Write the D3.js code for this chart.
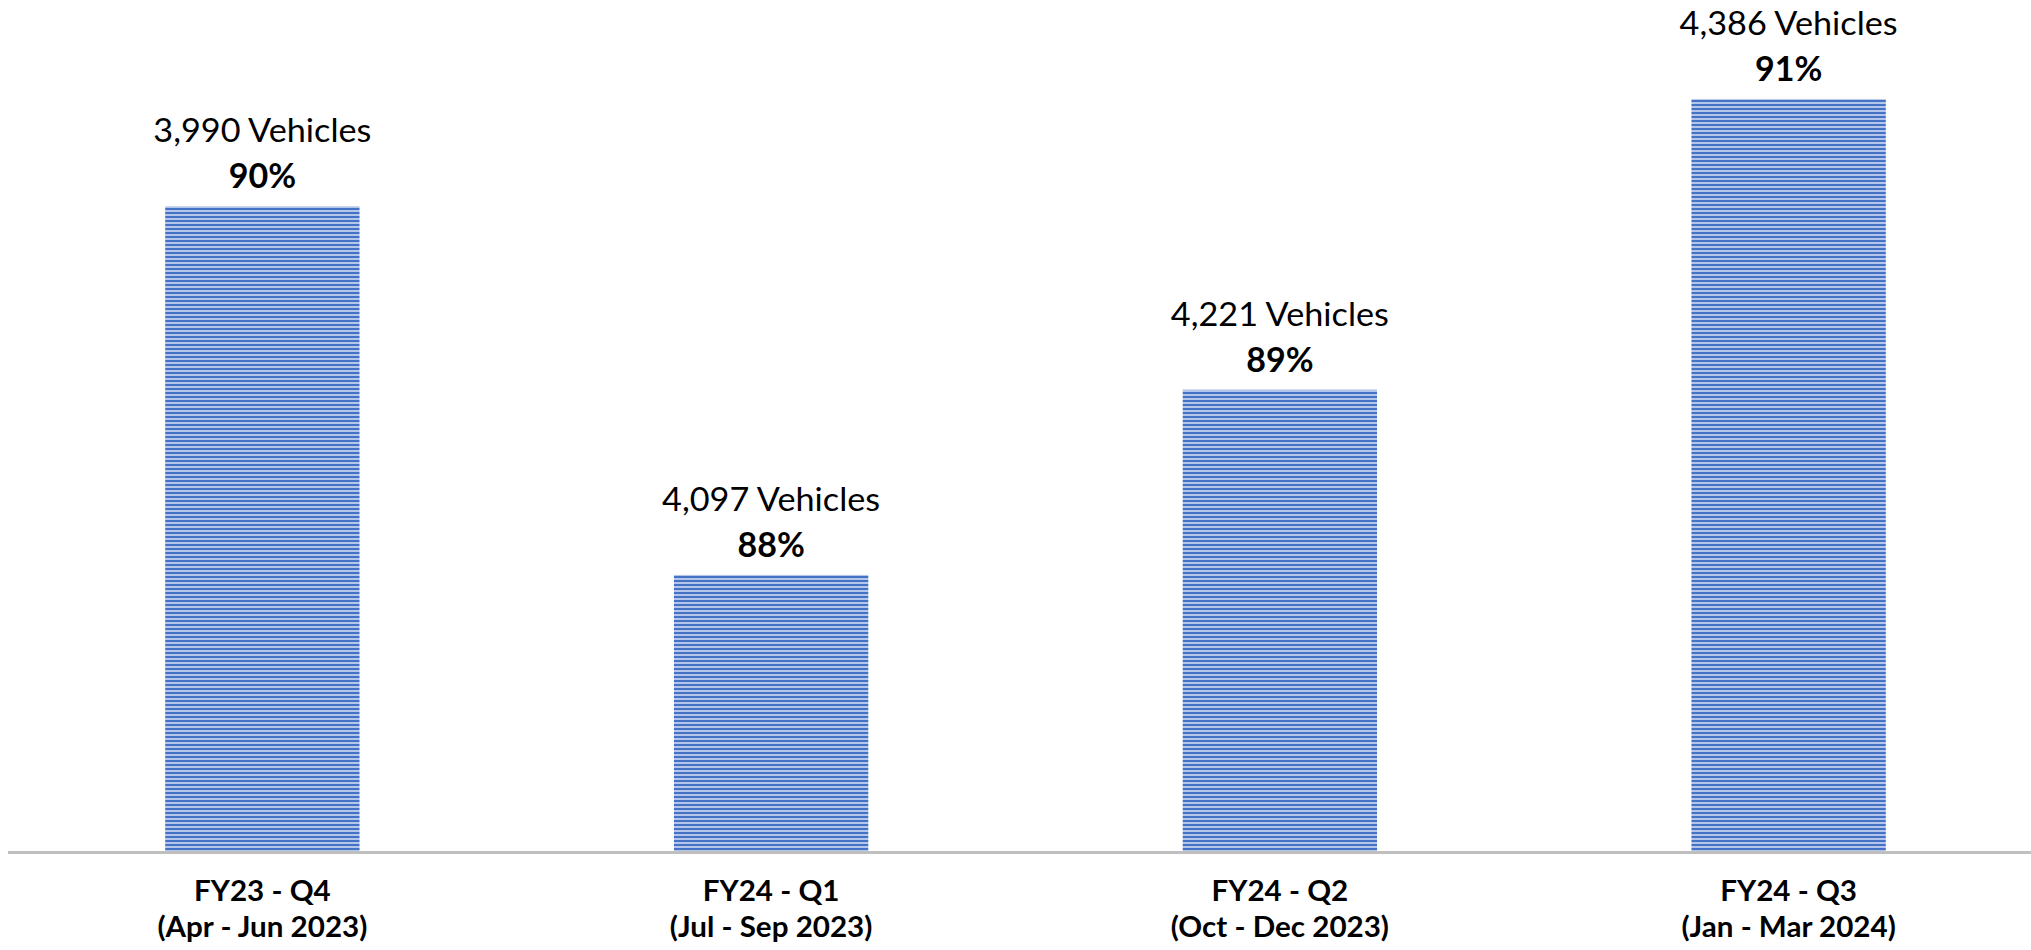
<!DOCTYPE html>
<html>
<head>
<meta charset="utf-8">
<script src="https://cdn.jsdelivr.net/npm/d3@7"></script>
<style>
  html, body { margin: 0; padding: 0; background: #ffffff; }
  svg { display: block; }
  text { font-family: Lato, "Open Sans", sans-serif; fill: #000000; }
</style>
</head>
<body>
<svg id="chart" width="2031" height="950"></svg>
<script>
// Quarterly figures
const quarters = ["FY23 - Q4", "FY24 - Q1", "FY24 - Q2", "FY24 - Q3"];
const periods = ["(Apr - Jun 2023)", "(Jul - Sep 2023)", "(Oct - Dec 2023)", "(Jan - Mar 2024)"];
const vehicles = [3990, 4097, 4221, 4386];
const shares = [90.27, 88.00, 89.14, 90.93];   // percent, shown rounded

const W = 2031, H = 950;
const baseY = 851;

const svg = d3.select("#chart");

// striped fill for the bars
const defs = svg.append("defs");
const pat = defs.append("pattern")
  .attr("id", "stripes")
  .attr("patternUnits", "userSpaceOnUse")
  .attr("width", 8).attr("height", 4);
pat.append("rect").attr("width", 8).attr("height", 4).attr("fill", "#b3c5e9");
pat.append("rect").attr("y", 0).attr("width", 8).attr("height", 2).attr("fill", "#4472c4");

const x = d3.scaleBand()
  .domain(quarters)
  .range([8, 2043])
  .paddingInner(0.618)
  .paddingOuter(0.309);

const y = d3.scaleLinear()
  .domain([86.3, 91.54])
  .range([baseY, 0]);

const data = quarters.map((q, i) => ({ q, period: periods[i], veh: vehicles[i], pct: shares[i] }));

// bars
svg.append("g").selectAll("rect")
  .data(data)
  .join("rect")
  .attr("x", d => x(d.q))
  .attr("y", d => y(d.pct))
  .attr("width", x.bandwidth())
  .attr("height", d => baseY - y(d.pct))
  .attr("fill", "url(#stripes)");

// category axis line
svg.append("line")
  .attr("x1", 8).attr("x2", W)
  .attr("y1", baseY + 1.5).attr("y2", baseY + 1.5)
  .attr("stroke", "#bfbfbf")
  .attr("stroke-width", 3);

const fmt = d3.format(",");

function label(g, cx, yy, txt, size, bold, sx) {
  g.append("text")
    .attr("transform", `translate(${cx},${yy}) scale(${sx},1)`)
    .attr("text-anchor", "middle")
    .attr("font-size", size)
    .attr("font-weight", bold ? 700 : 400)
    .text(txt);
}

const lab = svg.append("g");
data.forEach(d => {
  const cx = x(d.q) + x.bandwidth() / 2;
  const top = y(d.pct);
  label(lab, cx, top - 64, `${fmt(d.veh)} Vehicles`, 32, false, 1.07);
  label(lab, cx, top - 18, `${Math.round(d.pct)}%`, 34, true, 1.0);
  label(lab, cx, 901, d.q, 29, true, 1.02);
  label(lab, cx, 937, d.period, 29, true, 1.02);
});
</script>
</body>
</html>
